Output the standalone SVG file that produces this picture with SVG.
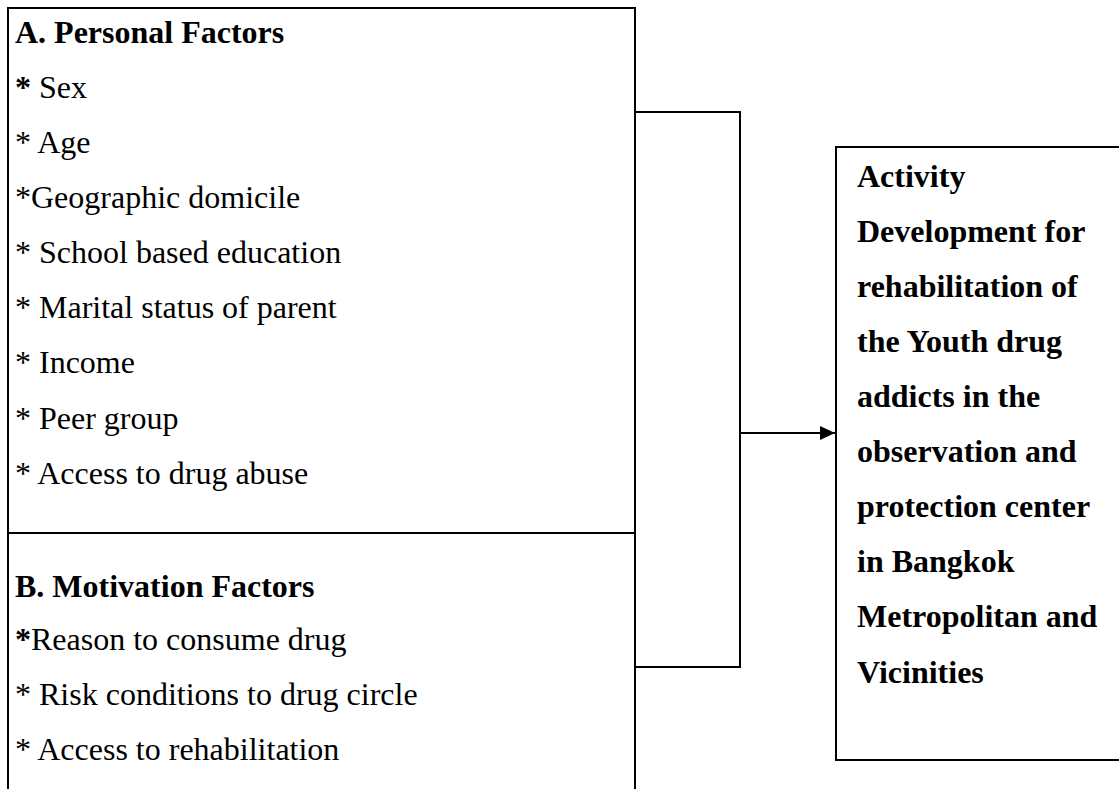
<svg xmlns="http://www.w3.org/2000/svg" width="1119" height="789" viewBox="0 0 1119 789">
<style>
.box{fill:none;stroke:#000;stroke-width:2}
.t{font-family:"Liberation Serif","Times New Roman",serif;font-size:32px;fill:#000}
.b{font-weight:bold}
.conn{fill:none;stroke:#000;stroke-width:2}
</style>
<defs>
<marker id="arr" markerUnits="userSpaceOnUse" markerWidth="16" markerHeight="14" refX="15" refY="7" orient="auto">
<path d="M0,0 L15,7 L0,14 Z" fill="#000"/>
</marker>
</defs>
<rect width="1119" height="789" fill="#fff"/>
<g id="personal">
<path class="box" d="M8,800 V8 H635 V800"/>
<line class="box" x1="8" y1="533" x2="635" y2="533"/>
<text class="t b" x="15" y="43">A. Personal Factors</text>
<text class="t" x="15" y="98"><tspan class="b">*</tspan> Sex</text>
<text class="t" x="15" y="153">* Age</text>
<text class="t" x="15" y="208">*Geographic domicile</text>
<text class="t" x="15" y="263">* School based education</text>
<text class="t" x="15" y="318">* Marital status of parent</text>
<text class="t" x="15" y="373">* Income</text>
<text class="t" x="15" y="429">* Peer group</text>
<text class="t" x="15" y="484">* Access to drug abuse</text>
</g>
<g id="motivation">
<text class="t b" x="15" y="597">B. Motivation Factors</text>
<text class="t" x="15" y="650"><tspan class="b">*</tspan>Reason to consume drug</text>
<text class="t" x="15" y="705">* Risk conditions to drug circle</text>
<text class="t" x="15" y="760">* Access to rehabilitation</text>
</g>
<g id="outcome">
<path class="box" d="M1130,147 H836 V760 H1130"/>
<text class="t b" x="857" y="187">Activity</text>
<text class="t b" x="857" y="242">Development for</text>
<text class="t b" x="857" y="297">rehabilitation of</text>
<text class="t b" x="857" y="352">the Youth drug</text>
<text class="t b" x="857" y="407">addicts in the</text>
<text class="t b" x="857" y="462">observation and</text>
<text class="t b" x="857" y="517">protection center</text>
<text class="t b" x="857" y="572">in Bangkok</text>
<text class="t b" x="857" y="627">Metropolitan and</text>
<text class="t b" x="857" y="683">Vicinities</text>
</g>
<g id="connectors">
<path class="conn" d="M635,112 H740 V667 H635"/>
<line class="conn" x1="740" y1="433" x2="835" y2="433" marker-end="url(#arr)"/>
</g>
</svg>
